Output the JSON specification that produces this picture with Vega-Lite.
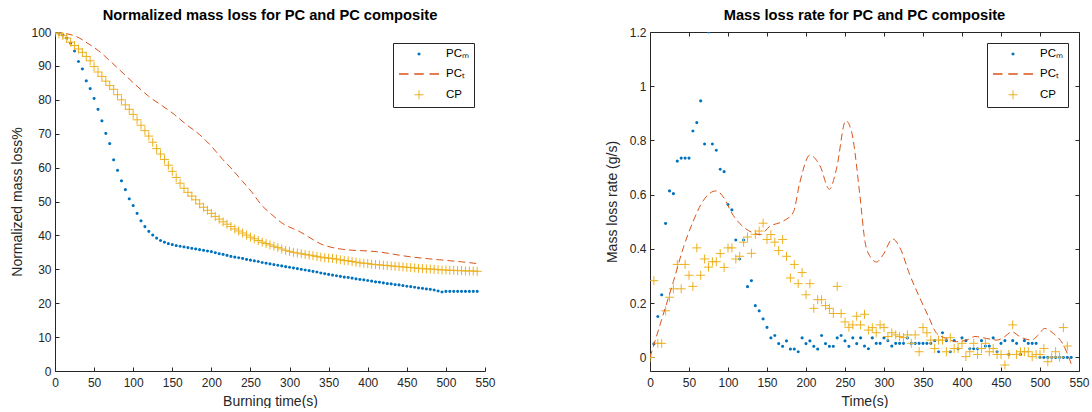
{
  "$schema": "https://vega.github.io/schema/vega-lite/v6.json",
  "padding": {"left": 10, "top": 8, "right": 5, "bottom": 0},
  "background": "white",
  "config": {
    "font": "Liberation Sans",
    "view": {"stroke": null},
    "title": {"fontSize": 14.7, "fontWeight": "bold", "color": "#000000", "offset": 3, "anchor": "middle"},
    "axis": {"grid": false, "domainColor": "#262626", "domainWidth": 1, "tickColor": "#262626", "tickWidth": 1, "tickSize": -4, "labelColor": "#262626", "labelFontSize": 12, "labelPadding": 8, "titleColor": "#262626", "titleFontSize": 14, "titleFontWeight": "normal", "labelFlush": false, "labelOverlap": false},
    "axisX": {"titlePadding": 6, "labelPadding": 10},
    "axisY": {"titlePadding": 6},
    "legend": {"orient": "top-right", "offset": 11, "labelFontSize": 11.5, "labelColor": "#000000", "strokeColor": "#262626", "fillColor": "white", "padding": 5, "rowPadding": 8, "symbolSize": 100, "symbolStrokeWidth": 1.2, "symbolOffset": 15, "labelOffset": 21}
  },
  "resolve": {"scale": {"color": "independent", "shape": "independent", "strokeWidth": "independent"}},
  "spacing": 109,
  "datasets": {
    "mass": [
      {"s":"PCₘ","t":0,"v":100},{"s":"PCₘ","t":5,"v":99.6},{"s":"PCₘ","t":10,"v":99.1},{"s":"PCₘ","t":15,"v":98.2},{"s":"PCₘ","t":20,"v":96.7},{"s":"PCₘ","t":25,"v":94.4},{"s":"PCₘ","t":30,"v":91.3},{"s":"PCₘ","t":35,"v":89.1},{"s":"PCₘ","t":40,"v":85.6},{"s":"PCₘ","t":45,"v":83.3},{"s":"PCₘ","t":50,"v":80.4},{"s":"PCₘ","t":55,"v":77.2},{"s":"PCₘ","t":60,"v":73.8},{"s":"PCₘ","t":65,"v":70.1},{"s":"PCₘ","t":70,"v":67.1},{"s":"PCₘ","t":75,"v":62.3},{"s":"PCₘ","t":80,"v":59.2},{"s":"PCₘ","t":85,"v":56.1},{"s":"PCₘ","t":90,"v":53.5},{"s":"PCₘ","t":95,"v":50.8},{"s":"PCₘ","t":100,"v":48.8},{"s":"PCₘ","t":105,"v":46.5},{"s":"PCₘ","t":110,"v":44.3},{"s":"PCₘ","t":115,"v":42.6},{"s":"PCₘ","t":120,"v":41.2},{"s":"PCₘ","t":125,"v":40.1},{"s":"PCₘ","t":130,"v":39.2},{"s":"PCₘ","t":135,"v":38.5},{"s":"PCₘ","t":140,"v":38.0},{"s":"PCₘ","t":145,"v":37.6},{"s":"PCₘ","t":150,"v":37.3},{"s":"PCₘ","t":155,"v":37.0},{"s":"PCₘ","t":160,"v":36.8},{"s":"PCₘ","t":165,"v":36.6},{"s":"PCₘ","t":170,"v":36.4},{"s":"PCₘ","t":175,"v":36.2},{"s":"PCₘ","t":180,"v":36.0},{"s":"PCₘ","t":185,"v":35.8},{"s":"PCₘ","t":190,"v":35.6},{"s":"PCₘ","t":195,"v":35.4},{"s":"PCₘ","t":200,"v":35.2},{"s":"PCₘ","t":205,"v":34.9},{"s":"PCₘ","t":210,"v":34.6},{"s":"PCₘ","t":215,"v":34.4},{"s":"PCₘ","t":220,"v":34.1},{"s":"PCₘ","t":225,"v":33.8},{"s":"PCₘ","t":230,"v":33.6},{"s":"PCₘ","t":235,"v":33.4},{"s":"PCₘ","t":240,"v":33.2},{"s":"PCₘ","t":245,"v":32.9},{"s":"PCₘ","t":250,"v":32.7},{"s":"PCₘ","t":255,"v":32.5},{"s":"PCₘ","t":260,"v":32.3},{"s":"PCₘ","t":265,"v":32.0},{"s":"PCₘ","t":270,"v":31.8},{"s":"PCₘ","t":275,"v":31.6},{"s":"PCₘ","t":280,"v":31.4},{"s":"PCₘ","t":285,"v":31.2},{"s":"PCₘ","t":290,"v":31.0},{"s":"PCₘ","t":295,"v":30.8},{"s":"PCₘ","t":300,"v":30.6},{"s":"PCₘ","t":305,"v":30.4},{"s":"PCₘ","t":310,"v":30.2},{"s":"PCₘ","t":315,"v":30.0},{"s":"PCₘ","t":320,"v":29.8},{"s":"PCₘ","t":325,"v":29.6},{"s":"PCₘ","t":330,"v":29.4},{"s":"PCₘ","t":335,"v":29.2},{"s":"PCₘ","t":340,"v":28.9},{"s":"PCₘ","t":345,"v":28.7},{"s":"PCₘ","t":350,"v":28.5},{"s":"PCₘ","t":355,"v":28.3},{"s":"PCₘ","t":360,"v":28.1},{"s":"PCₘ","t":365,"v":27.9},{"s":"PCₘ","t":370,"v":27.7},{"s":"PCₘ","t":375,"v":27.6},{"s":"PCₘ","t":380,"v":27.4},{"s":"PCₘ","t":385,"v":27.2},{"s":"PCₘ","t":390,"v":27.0},{"s":"PCₘ","t":395,"v":26.9},{"s":"PCₘ","t":400,"v":26.7},{"s":"PCₘ","t":405,"v":26.5},{"s":"PCₘ","t":410,"v":26.3},{"s":"PCₘ","t":415,"v":26.2},{"s":"PCₘ","t":420,"v":26.0},{"s":"PCₘ","t":425,"v":25.8},{"s":"PCₘ","t":430,"v":25.7},{"s":"PCₘ","t":435,"v":25.5},{"s":"PCₘ","t":440,"v":25.4},{"s":"PCₘ","t":445,"v":25.2},{"s":"PCₘ","t":450,"v":25.0},{"s":"PCₘ","t":455,"v":24.9},{"s":"PCₘ","t":460,"v":24.7},{"s":"PCₘ","t":465,"v":24.5},{"s":"PCₘ","t":470,"v":24.4},{"s":"PCₘ","t":475,"v":24.2},{"s":"PCₘ","t":480,"v":24.1},{"s":"PCₘ","t":485,"v":23.9},{"s":"PCₘ","t":490,"v":23.6},{"s":"PCₘ","t":495,"v":23.3},{"s":"PCₘ","t":500,"v":23.5},{"s":"PCₘ","t":505,"v":23.5},{"s":"PCₘ","t":510,"v":23.5},{"s":"PCₘ","t":515,"v":23.5},{"s":"PCₘ","t":520,"v":23.5},{"s":"PCₘ","t":525,"v":23.5},{"s":"PCₘ","t":530,"v":23.5},{"s":"PCₘ","t":535,"v":23.5},{"s":"PCₘ","t":540,"v":23.5},
      {"s":"CP","t":0,"v":100},{"s":"CP","t":5,"v":99.5},{"s":"CP","t":10,"v":99.0},{"s":"CP","t":15,"v":98.2},{"s":"CP","t":20,"v":97.0},{"s":"CP","t":25,"v":96.0},{"s":"CP","t":30,"v":95.0},{"s":"CP","t":35,"v":94.0},{"s":"CP","t":40,"v":92.8},{"s":"CP","t":45,"v":91.5},{"s":"CP","t":50,"v":89.8},{"s":"CP","t":55,"v":88.2},{"s":"CP","t":60,"v":86.9},{"s":"CP","t":65,"v":85.5},{"s":"CP","t":70,"v":84.2},{"s":"CP","t":75,"v":83.1},{"s":"CP","t":80,"v":81.5},{"s":"CP","t":85,"v":80.0},{"s":"CP","t":90,"v":78.5},{"s":"CP","t":95,"v":77.2},{"s":"CP","t":100,"v":75.7},{"s":"CP","t":105,"v":74.1},{"s":"CP","t":110,"v":72.5},{"s":"CP","t":115,"v":70.9},{"s":"CP","t":120,"v":69.3},{"s":"CP","t":125,"v":67.5},{"s":"CP","t":130,"v":65.6},{"s":"CP","t":135,"v":64.0},{"s":"CP","t":140,"v":62.4},{"s":"CP","t":145,"v":60.7},{"s":"CP","t":150,"v":58.9},{"s":"CP","t":155,"v":57.1},{"s":"CP","t":160,"v":55.4},{"s":"CP","t":165,"v":53.9},{"s":"CP","t":170,"v":52.7},{"s":"CP","t":175,"v":51.6},{"s":"CP","t":180,"v":50.5},{"s":"CP","t":185,"v":49.3},{"s":"CP","t":190,"v":48.3},{"s":"CP","t":195,"v":47.4},{"s":"CP","t":200,"v":46.5},{"s":"CP","t":205,"v":45.6},{"s":"CP","t":210,"v":44.8},{"s":"CP","t":215,"v":44.0},{"s":"CP","t":220,"v":43.3},{"s":"CP","t":225,"v":42.6},{"s":"CP","t":230,"v":41.9},{"s":"CP","t":235,"v":41.3},{"s":"CP","t":240,"v":40.7},{"s":"CP","t":245,"v":40.1},{"s":"CP","t":250,"v":39.5},{"s":"CP","t":255,"v":39.0},{"s":"CP","t":260,"v":38.5},{"s":"CP","t":265,"v":38.0},{"s":"CP","t":270,"v":37.6},{"s":"CP","t":275,"v":37.2},{"s":"CP","t":280,"v":36.8},{"s":"CP","t":285,"v":36.4},{"s":"CP","t":290,"v":36.0},{"s":"CP","t":295,"v":35.6},{"s":"CP","t":300,"v":35.3},{"s":"CP","t":305,"v":35.0},{"s":"CP","t":310,"v":34.8},{"s":"CP","t":315,"v":34.6},{"s":"CP","t":320,"v":34.4},{"s":"CP","t":325,"v":34.2},{"s":"CP","t":330,"v":34.0},{"s":"CP","t":335,"v":33.8},{"s":"CP","t":340,"v":33.6},{"s":"CP","t":345,"v":33.4},{"s":"CP","t":350,"v":33.3},{"s":"CP","t":355,"v":33.2},{"s":"CP","t":360,"v":33.0},{"s":"CP","t":365,"v":32.8},{"s":"CP","t":370,"v":32.6},{"s":"CP","t":375,"v":32.5},{"s":"CP","t":380,"v":32.3},{"s":"CP","t":385,"v":32.1},{"s":"CP","t":390,"v":31.9},{"s":"CP","t":395,"v":31.8},{"s":"CP","t":400,"v":31.7},{"s":"CP","t":405,"v":31.5},{"s":"CP","t":410,"v":31.4},{"s":"CP","t":415,"v":31.3},{"s":"CP","t":420,"v":31.2},{"s":"CP","t":425,"v":31.1},{"s":"CP","t":430,"v":31.0},{"s":"CP","t":435,"v":30.9},{"s":"CP","t":440,"v":30.8},{"s":"CP","t":445,"v":30.7},{"s":"CP","t":450,"v":30.6},{"s":"CP","t":455,"v":30.5},{"s":"CP","t":460,"v":30.4},{"s":"CP","t":465,"v":30.3},{"s":"CP","t":470,"v":30.2},{"s":"CP","t":475,"v":30.1},{"s":"CP","t":480,"v":30.1},{"s":"CP","t":485,"v":30.0},{"s":"CP","t":490,"v":29.9},{"s":"CP","t":495,"v":29.8},{"s":"CP","t":500,"v":29.8},{"s":"CP","t":505,"v":29.7},{"s":"CP","t":510,"v":29.7},{"s":"CP","t":515,"v":29.6},{"s":"CP","t":520,"v":29.6},{"s":"CP","t":525,"v":29.5},{"s":"CP","t":530,"v":29.5},{"s":"CP","t":535,"v":29.5},{"s":"CP","t":540,"v":29.4},
      {"s":"PCₜ","t":0,"v":100},{"s":"PCₜ","t":15,"v":99.5},{"s":"PCₜ","t":26,"v":98.8},{"s":"PCₜ","t":41,"v":96.8},{"s":"PCₜ","t":56,"v":94.4},{"s":"PCₜ","t":73,"v":90.9},{"s":"PCₜ","t":91,"v":87},{"s":"PCₜ","t":105,"v":84},{"s":"PCₜ","t":120,"v":81},{"s":"PCₜ","t":138,"v":78.1},{"s":"PCₜ","t":153,"v":75.6},{"s":"PCₜ","t":168,"v":72.7},{"s":"PCₜ","t":185,"v":69.7},{"s":"PCₜ","t":200,"v":66.3},{"s":"PCₜ","t":215,"v":62.3},{"s":"PCₜ","t":225,"v":59.9},{"s":"PCₜ","t":240,"v":55.9},{"s":"PCₜ","t":251,"v":53},{"s":"PCₜ","t":264,"v":49},{"s":"PCₜ","t":276,"v":46.4},{"s":"PCₜ","t":290,"v":43.7},{"s":"PCₜ","t":313,"v":41.1},{"s":"PCₜ","t":343,"v":37.2},{"s":"PCₜ","t":368,"v":35.9},{"s":"PCₜ","t":411,"v":35.2},{"s":"PCₜ","t":454,"v":33.7},{"s":"PCₜ","t":492,"v":32.8},{"s":"PCₜ","t":520,"v":32.2},{"s":"PCₜ","t":540,"v":31.7}
    ],
    "rate": [
      {"s":"PCₘ","t":0,"v":0},{"s":"PCₘ","t":5,"v":0.05},{"s":"PCₘ","t":10,"v":0.151},{"s":"PCₘ","t":15,"v":0.231},{"s":"PCₘ","t":20,"v":0.494},{"s":"PCₘ","t":25,"v":0.614},{"s":"PCₘ","t":30,"v":0.604},{"s":"PCₘ","t":35,"v":0.724},{"s":"PCₘ","t":40,"v":0.735},{"s":"PCₘ","t":45,"v":0.735},{"s":"PCₘ","t":50,"v":0.735},{"s":"PCₘ","t":55,"v":0.835},{"s":"PCₘ","t":60,"v":0.866},{"s":"PCₘ","t":65,"v":0.946},{"s":"PCₘ","t":70,"v":0.787},{"s":"PCₘ","t":75,"v":1.2},{"s":"PCₘ","t":80,"v":0.787},{"s":"PCₘ","t":85,"v":0.764},{"s":"PCₘ","t":90,"v":0.694},{"s":"PCₘ","t":95,"v":0.685},{"s":"PCₘ","t":100,"v":0.564},{"s":"PCₘ","t":105,"v":0.544},{"s":"PCₘ","t":110,"v":0.433},{"s":"PCₘ","t":115,"v":0.363},{"s":"PCₘ","t":120,"v":0.433},{"s":"PCₘ","t":125,"v":0.261},{"s":"PCₘ","t":130,"v":0.283},{"s":"PCₘ","t":135,"v":0.191},{"s":"PCₘ","t":140,"v":0.172},{"s":"PCₘ","t":145,"v":0.142},{"s":"PCₘ","t":150,"v":0.111},{"s":"PCₘ","t":155,"v":0.072},{"s":"PCₘ","t":160,"v":0.081},{"s":"PCₘ","t":165,"v":0.051},{"s":"PCₘ","t":170,"v":0.041},{"s":"PCₘ","t":175,"v":0.061},{"s":"PCₘ","t":180,"v":0.031},{"s":"PCₘ","t":185,"v":0.031},{"s":"PCₘ","t":190,"v":0.021},{"s":"PCₘ","t":195,"v":0.072},{"s":"PCₘ","t":200,"v":0.051},{"s":"PCₘ","t":205,"v":0.061},{"s":"PCₘ","t":210,"v":0.041},{"s":"PCₘ","t":215,"v":0.031},{"s":"PCₘ","t":220,"v":0.081},{"s":"PCₘ","t":225,"v":0.051},{"s":"PCₘ","t":230,"v":0.041},{"s":"PCₘ","t":235,"v":0.041},{"s":"PCₘ","t":240,"v":0.072},{"s":"PCₘ","t":245,"v":0.081},{"s":"PCₘ","t":250,"v":0.061},{"s":"PCₘ","t":255,"v":0.041},{"s":"PCₘ","t":260,"v":0.072},{"s":"PCₘ","t":265,"v":0.051},{"s":"PCₘ","t":270,"v":0.072},{"s":"PCₘ","t":275,"v":0.042},{"s":"PCₘ","t":280,"v":0.032},{"s":"PCₘ","t":285,"v":0.072},{"s":"PCₘ","t":290,"v":0.052},{"s":"PCₘ","t":295,"v":0.052},{"s":"PCₘ","t":300,"v":0.072},{"s":"PCₘ","t":305,"v":0.062},{"s":"PCₘ","t":310,"v":0.042},{"s":"PCₘ","t":315,"v":0.052},{"s":"PCₘ","t":320,"v":0.052},{"s":"PCₘ","t":325,"v":0.052},{"s":"PCₘ","t":330,"v":0.072},{"s":"PCₘ","t":335,"v":0.052},{"s":"PCₘ","t":340,"v":0.052},{"s":"PCₘ","t":345,"v":0.052},{"s":"PCₘ","t":350,"v":0.052},{"s":"PCₘ","t":355,"v":0.052},{"s":"PCₘ","t":360,"v":0.052},{"s":"PCₘ","t":365,"v":0.062},{"s":"PCₘ","t":370,"v":0.021},{"s":"PCₘ","t":375,"v":0.091},{"s":"PCₘ","t":380,"v":0.062},{"s":"PCₘ","t":385,"v":0.021},{"s":"PCₘ","t":390,"v":0.062},{"s":"PCₘ","t":395,"v":0.032},{"s":"PCₘ","t":400,"v":0.072},{"s":"PCₘ","t":405,"v":0.062},{"s":"PCₘ","t":410,"v":0.032},{"s":"PCₘ","t":415,"v":0.032},{"s":"PCₘ","t":420,"v":0.032},{"s":"PCₘ","t":425,"v":0.062},{"s":"PCₘ","t":430,"v":0.042},{"s":"PCₘ","t":435,"v":0.042},{"s":"PCₘ","t":440,"v":0.072},{"s":"PCₘ","t":445,"v":0.021},{"s":"PCₘ","t":450,"v":0.052},{"s":"PCₘ","t":455,"v":0.062},{"s":"PCₘ","t":460,"v":0.011},{"s":"PCₘ","t":465,"v":0.062},{"s":"PCₘ","t":470,"v":0.052},{"s":"PCₘ","t":475,"v":0.011},{"s":"PCₘ","t":480,"v":0.062},{"s":"PCₘ","t":485,"v":0.052},{"s":"PCₘ","t":490,"v":0.052},{"s":"PCₘ","t":495,"v":0.052},{"s":"PCₘ","t":500,"v":0},{"s":"PCₘ","t":505,"v":0},{"s":"PCₘ","t":510,"v":0},{"s":"PCₘ","t":515,"v":0},{"s":"PCₘ","t":520,"v":0},{"s":"PCₘ","t":525,"v":0},{"s":"PCₘ","t":530,"v":0},{"s":"PCₘ","t":535,"v":0},{"s":"PCₘ","t":540,"v":0},
      {"s":"CP","t":0,"v":0},{"s":"CP","t":5,"v":0.283},{"s":"CP","t":10,"v":0.052},{"s":"CP","t":15,"v":0.052},{"s":"CP","t":20,"v":0.172},{"s":"CP","t":25,"v":0.222},{"s":"CP","t":30,"v":0.253},{"s":"CP","t":35,"v":0.343},{"s":"CP","t":40,"v":0.253},{"s":"CP","t":45,"v":0.343},{"s":"CP","t":50,"v":0.303},{"s":"CP","t":55,"v":0.262},{"s":"CP","t":60,"v":0.404},{"s":"CP","t":65,"v":0.303},{"s":"CP","t":70,"v":0.363},{"s":"CP","t":75,"v":0.333},{"s":"CP","t":80,"v":0.353},{"s":"CP","t":85,"v":0.353},{"s":"CP","t":90,"v":0.383},{"s":"CP","t":95,"v":0.332},{"s":"CP","t":100,"v":0.404},{"s":"CP","t":105,"v":0.404},{"s":"CP","t":110,"v":0.363},{"s":"CP","t":115,"v":0.373},{"s":"CP","t":120,"v":0.425},{"s":"CP","t":125,"v":0.444},{"s":"CP","t":130,"v":0.384},{"s":"CP","t":135,"v":0.454},{"s":"CP","t":140,"v":0.466},{"s":"CP","t":145,"v":0.495},{"s":"CP","t":150,"v":0.435},{"s":"CP","t":155,"v":0.453},{"s":"CP","t":160,"v":0.425},{"s":"CP","t":165,"v":0.394},{"s":"CP","t":170,"v":0.435},{"s":"CP","t":175,"v":0.373},{"s":"CP","t":180,"v":0.293},{"s":"CP","t":185,"v":0.343},{"s":"CP","t":190,"v":0.272},{"s":"CP","t":195,"v":0.313},{"s":"CP","t":200,"v":0.231},{"s":"CP","t":205,"v":0.272},{"s":"CP","t":210,"v":0.181},{"s":"CP","t":215,"v":0.213},{"s":"CP","t":220,"v":0.213},{"s":"CP","t":225,"v":0.191},{"s":"CP","t":230,"v":0.181},{"s":"CP","t":235,"v":0.162},{"s":"CP","t":240,"v":0.262},{"s":"CP","t":245,"v":0.162},{"s":"CP","t":250,"v":0.131},{"s":"CP","t":255,"v":0.111},{"s":"CP","t":260,"v":0.12},{"s":"CP","t":265,"v":0.152},{"s":"CP","t":270,"v":0.12},{"s":"CP","t":275,"v":0.159},{"s":"CP","t":280,"v":0.101},{"s":"CP","t":285,"v":0.11},{"s":"CP","t":290,"v":0.091},{"s":"CP","t":295,"v":0.12},{"s":"CP","t":300,"v":0.11},{"s":"CP","t":305,"v":0.077},{"s":"CP","t":310,"v":0.091},{"s":"CP","t":315,"v":0.083},{"s":"CP","t":320,"v":0.077},{"s":"CP","t":325,"v":0.073},{"s":"CP","t":330,"v":0.083},{"s":"CP","t":335,"v":0.052},{"s":"CP","t":340,"v":0.083},{"s":"CP","t":345,"v":0.021},{"s":"CP","t":350,"v":0.11},{"s":"CP","t":355,"v":0.091},{"s":"CP","t":360,"v":0.064},{"s":"CP","t":365,"v":0.033},{"s":"CP","t":370,"v":0.064},{"s":"CP","t":375,"v":0.064},{"s":"CP","t":380,"v":0.021},{"s":"CP","t":385,"v":0.073},{"s":"CP","t":390,"v":0.033},{"s":"CP","t":395,"v":0.033},{"s":"CP","t":400,"v":0.052},{"s":"CP","t":405,"v":0.003},{"s":"CP","t":410,"v":0.021},{"s":"CP","t":415,"v":0.052},{"s":"CP","t":420,"v":0.011},{"s":"CP","t":425,"v":0.033},{"s":"CP","t":430,"v":0.052},{"s":"CP","t":435,"v":0.021},{"s":"CP","t":440,"v":0.033},{"s":"CP","t":445,"v":0.011},{"s":"CP","t":450,"v":0.011},{"s":"CP","t":455,"v":-0.028},{"s":"CP","t":460,"v":0.011},{"s":"CP","t":465,"v":0.12},{"s":"CP","t":470,"v":0.011},{"s":"CP","t":475,"v":0.021},{"s":"CP","t":480,"v":0.021},{"s":"CP","t":485,"v":0.021},{"s":"CP","t":490,"v":0.003},{"s":"CP","t":495,"v":0.011},{"s":"CP","t":500,"v":0.011},{"s":"CP","t":505,"v":0.033},{"s":"CP","t":510,"v":-0.016},{"s":"CP","t":515,"v":0.001},{"s":"CP","t":520,"v":0.021},{"s":"CP","t":525,"v":0.001},{"s":"CP","t":530,"v":0.11},{"s":"CP","t":535,"v":0.042},
      {"s":"PCₜ","t":0,"v":0},{"s":"PCₜ","t":12.8,"v":0.12},{"s":"PCₜ","t":30,"v":0.28},{"s":"PCₜ","t":42.7,"v":0.404},{"s":"PCₜ","t":55.5,"v":0.503},{"s":"PCₜ","t":68,"v":0.577},{"s":"PCₜ","t":84.6,"v":0.614},{"s":"PCₜ","t":96,"v":0.583},{"s":"PCₜ","t":104.7,"v":0.533},{"s":"PCₜ","t":115.4,"v":0.493},{"s":"PCₜ","t":132.5,"v":0.459},{"s":"PCₜ","t":141,"v":0.453},{"s":"PCₜ","t":154,"v":0.484},{"s":"PCₜ","t":171,"v":0.503},{"s":"PCₜ","t":183.7,"v":0.535},{"s":"PCₜ","t":192,"v":0.644},{"s":"PCₜ","t":205,"v":0.746},{"s":"PCₜ","t":218,"v":0.706},{"s":"PCₜ","t":230,"v":0.62},{"s":"PCₜ","t":239,"v":0.694},{"s":"PCₜ","t":251,"v":0.873},{"s":"PCₜ","t":258.6,"v":0.83},{"s":"PCₜ","t":269,"v":0.6},{"s":"PCₜ","t":275.6,"v":0.428},{"s":"PCₜ","t":282,"v":0.373},{"s":"PCₜ","t":290.6,"v":0.352},{"s":"PCₜ","t":299,"v":0.379},{"s":"PCₜ","t":311,"v":0.437},{"s":"PCₜ","t":320.5,"v":0.404},{"s":"PCₜ","t":333,"v":0.305},{"s":"PCₜ","t":346,"v":0.219},{"s":"PCₜ","t":357,"v":0.151},{"s":"PCₜ","t":367.5,"v":0.089},{"s":"PCₜ","t":380,"v":0.07},{"s":"PCₜ","t":393,"v":0.058},{"s":"PCₜ","t":406,"v":0.064},{"s":"PCₜ","t":416.7,"v":0.077},{"s":"PCₜ","t":431.6,"v":0.07},{"s":"PCₜ","t":444.5,"v":0.064},{"s":"PCₜ","t":455,"v":0.077},{"s":"PCₜ","t":463.7,"v":0.095},{"s":"PCₜ","t":474,"v":0.077},{"s":"PCₜ","t":489,"v":0.064},{"s":"PCₜ","t":498,"v":0.083},{"s":"PCₜ","t":506,"v":0.107},{"s":"PCₜ","t":517,"v":0.089},{"s":"PCₜ","t":530,"v":0.046},{"s":"PCₜ","t":540.6,"v":-0.028}
    ]
  },
  "hconcat": [
    {
      "width": 430,
      "height": 339,
      "title": "Normalized mass loss for PC and PC composite",
      "layer": [
        {
          "data": {"name": "mass"},
          "transform": [{"filter": "datum.s === 'PCₜ'"}],
          "mark": {"type": "line", "color": "#D95319", "strokeWidth": 1, "strokeDash": [7, 4], "interpolate": "monotone", "clip": true},
          "encoding": {
            "x": {"field": "t", "type": "quantitative", "scale": {"domain": [0, 550], "nice": false}, "axis": {"values": [0,50,100,150,200,250,300,350,400,450,500,550], "title": "Burning time(s)"}},
            "y": {"field": "v", "type": "quantitative", "scale": {"domain": [0, 100], "nice": false}, "axis": {"values": [0,10,20,30,40,50,60,70,80,90,100], "title": "Normalized mass loss%"}}
          }
        },
        {
          "data": {"name": "mass"},
          "transform": [{"filter": "datum.s !== 'PCₜ'"}],
          "mark": {"type": "point", "filled": false, "size": 100, "opacity": 1, "clip": true},
          "encoding": {
            "x": {"field": "t", "type": "quantitative", "scale": {"domain": [0, 550], "nice": false}, "axis": {"values": [0,50,100,150,200,250,300,350,400,450,500,550], "title": "Burning time(s)"}},
            "y": {"field": "v", "type": "quantitative", "scale": {"domain": [0, 100], "nice": false}, "axis": {"values": [0,10,20,30,40,50,60,70,80,90,100], "title": "Normalized mass loss%"}},
            "color": {"field": "s", "type": "nominal", "sort": null, "scale": {"domain": ["PCₘ", "PCₜ", "CP"], "range": ["#0072BD", "#D95319", "#EDB120"]}, "legend": {"title": null}},
            "shape": {"field": "s", "type": "nominal", "sort": null, "scale": {"domain": ["PCₘ", "PCₜ", "CP"], "range": ["M-0.15,0A0.15,0.15,0,1,0,0.15,0A0.15,0.15,0,1,0,-0.15,0Z", "M-4,0H-2.1M-0.95,0H0.95M2.1,0H4", "M-0.9,0H0.9M0,-0.9V0.9"]}, "legend": {"title": null}},
            "strokeWidth": {"field": "s", "type": "nominal", "scale": {"domain": ["PCₘ", "PCₜ", "CP"], "range": [1.6, 1, 1]}, "legend": null}
          }
        }
      ]
    },
    {
      "width": 429,
      "height": 339,
      "title": "Mass loss rate for PC and PC composite",
      "resolve": {"axis": {"x": "independent", "y": "independent"}},
      "layer": [
        {
          "data": {"name": "rate"},
          "transform": [{"filter": "datum.s !== 'PCₜ'"}],
          "mark": {"type": "point", "filled": false, "size": 100, "opacity": 1, "clip": true},
          "encoding": {
            "x": {"field": "t", "type": "quantitative", "scale": {"domain": [0, 550], "nice": false}, "axis": {"orient": "bottom", "values": [0,50,100,150,200,250,300,350,400,450,500,550], "title": "Time(s)"}},
            "y": {"field": "v", "type": "quantitative", "scale": {"domain": [-0.05, 1.2], "nice": false, "zero": false}, "axis": {"orient": "left", "values": [0,0.2,0.4,0.6,0.8,1,1.2], "format": "~g", "title": "Mass loss rate (g/s)", "titlePadding": 10}},
            "color": {"field": "s", "type": "nominal", "sort": null, "scale": {"domain": ["PCₘ", "PCₜ", "CP"], "range": ["#0072BD", "#D95319", "#EDB120"]}, "legend": {"title": null}},
            "shape": {"field": "s", "type": "nominal", "sort": null, "scale": {"domain": ["PCₘ", "PCₜ", "CP"], "range": ["M-0.15,0A0.15,0.15,0,1,0,0.15,0A0.15,0.15,0,1,0,-0.15,0Z", "M-4,0H-2.1M-0.95,0H0.95M2.1,0H4", "M-0.9,0H0.9M0,-0.9V0.9"]}, "legend": {"title": null}},
            "strokeWidth": {"field": "s", "type": "nominal", "scale": {"domain": ["PCₘ", "PCₜ", "CP"], "range": [1.6, 1, 1]}, "legend": null}
          }
        },
        {
          "data": {"name": "rate"},
          "transform": [{"filter": "datum.s === 'PCₜ'"}],
          "mark": {"type": "line", "color": "#D95319", "strokeWidth": 1, "strokeDash": [7, 4], "interpolate": "monotone", "clip": true},
          "encoding": {
            "x": {"field": "t", "type": "quantitative", "scale": {"domain": [0, 550], "nice": false}, "axis": {"orient": "top", "values": [0,50,100,150,200,250,300,350,400,450,500,550], "labels": false, "title": null}},
            "y": {"field": "v", "type": "quantitative", "scale": {"domain": [-0.05, 1.2], "nice": false, "zero": false}, "axis": {"orient": "right", "values": [0,0.2,0.4,0.6,0.8,1,1.2], "labels": false, "title": null}}
          }
        }
      ]
    }
  ]
}
